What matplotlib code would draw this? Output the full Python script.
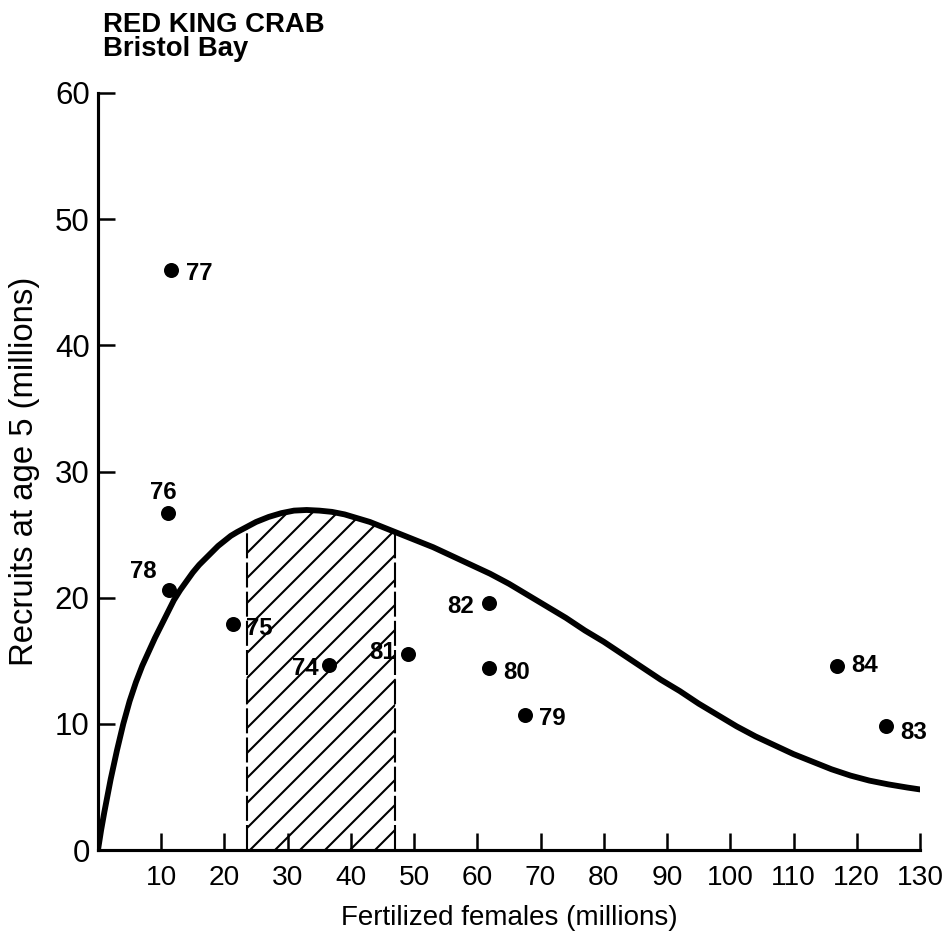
import matplotlib
matplotlib.use('Agg')
import matplotlib.pyplot as plt
import numpy as np

# spawners vs recruits, year labels
females = [11.6, 11.0, 11.3, 21.4, 36.6, 49.1, 61.8, 61.8, 67.5, 116.8, 124.6]
recruits = [46.0, 26.7, 20.6, 17.9, 14.7, 15.5, 19.6, 14.4, 10.7, 14.6, 9.8]
years = ['77', '76', '78', '75', '74', '81', '82', '80', '79', '84', '83']

# fitted curve
curve_x = [0, 0.5, 1, 1.5, 2, 3, 4, 5, 6, 7, 8, 9, 10, 11, 12, 13, 14, 15, 16, 17, 18, 19, 20, 21, 22,
           23.5, 25, 27, 29, 31, 33, 35, 37, 39, 41, 43, 45, 47, 50, 53, 56, 59, 62, 65, 68, 71, 74, 77,
           80, 83, 86, 89, 92, 95, 98, 101, 104, 107, 110, 113, 116, 119, 122, 125, 128, 130]
curve_y = [0, 1.6, 3.0, 4.3, 5.6, 7.9, 10.0, 11.8, 13.3, 14.6, 15.7, 16.8, 17.8, 18.8, 19.8, 20.6, 21.3,
           22.0, 22.6, 23.1, 23.6, 24.1, 24.5, 24.9, 25.2,
           25.6, 26.0, 26.4, 26.7, 26.9, 26.95, 26.9, 26.8, 26.6, 26.3, 26.0, 25.6, 25.2, 24.6, 24.0,
           23.3, 22.6, 21.9, 21.1, 20.2, 19.3, 18.4, 17.4,
           16.5, 15.5, 14.5, 13.5, 12.6, 11.6, 10.7, 9.8, 9.0, 8.3, 7.6, 7.0, 6.4, 5.9, 5.5, 5.2, 4.95, 4.8]

# shaded range
band = [23.5, 47]

xticks = list(range(10, 140, 10))
yticks = list(range(0, 70, 10))

plt.rcParams['font.family'] = ['Liberation Sans', 'DejaVu Sans']
plt.rcParams['hatch.linewidth'] = 1.0

fig = plt.figure(figsize=(950/150, 936/150), dpi=150)
ax = fig.add_axes([98/950, 1-850/936, 822/950, 757/936])

cx = np.array(curve_x); cy = np.array(curve_y)
m = (cx >= band[0]) & (cx <= band[1])
ax.fill_between(cx[m], 0, cy[m], facecolor='none', edgecolor='black', hatch='//', linewidth=0)
for b in band:
    ax.plot([b, b], [0, np.interp(b, cx, cy)], color='black', lw=1.0, ls=(0, (12, 2)))

ax.plot(cx, cy, color='black', lw=2.8, solid_capstyle='round', solid_joinstyle='round')
ax.plot(females, recruits, 'o', color='black', markersize=6.2)

offsets = {'77': (7, -5, 'left'), '76': (-2, 7, 'center'), '78': (-6, 6, 'right'),
           '75': (6, -5, 'left'), '74': (-5, -5, 'right'), '81': (-6, -2, 'right'),
           '82': (-7, -5, 'right'), '80': (7, -5, 'left'), '79': (7, -5, 'left'),
           '84': (7, -3, 'left'), '83': (7, -6, 'left')}
for xx, yy, t in zip(females, recruits, years):
    dx, dy, ha = offsets[t]
    ax.annotate(t, (xx, yy), xytext=(dx, dy), textcoords='offset points', ha=ha, va='baseline',
                fontsize=11.5, fontweight='bold')

ax.set_xlim(0, 130)
ax.set_ylim(0, 60)
ax.set_xticks(xticks)
ax.set_yticks(yticks)
ax.spines['top'].set_visible(False)
ax.spines['right'].set_visible(False)
for s in ['left', 'bottom']:
    ax.spines[s].set_linewidth(1.5)
ax.tick_params(direction='in', length=8, width=1.2)
ax.tick_params(axis='y', pad=4, labelsize=15)
ax.tick_params(axis='x', pad=7, labelsize=13.5)

ax.set_xlabel('Fertilized females (millions)', fontsize=13.3, labelpad=7)
ax.set_ylabel('Recruits at age 5 (millions)', fontsize=15.8, labelpad=7)

fig.text(103/950, 1-32/936, 'RED KING CRAB', fontsize=13.2, fontweight='bold', va='baseline', ha='left')
fig.text(103/950, 1-56/936, 'Bristol Bay', fontsize=13.2, fontweight='bold', va='baseline', ha='left')

fig.savefig('out.png', dpi=150)
